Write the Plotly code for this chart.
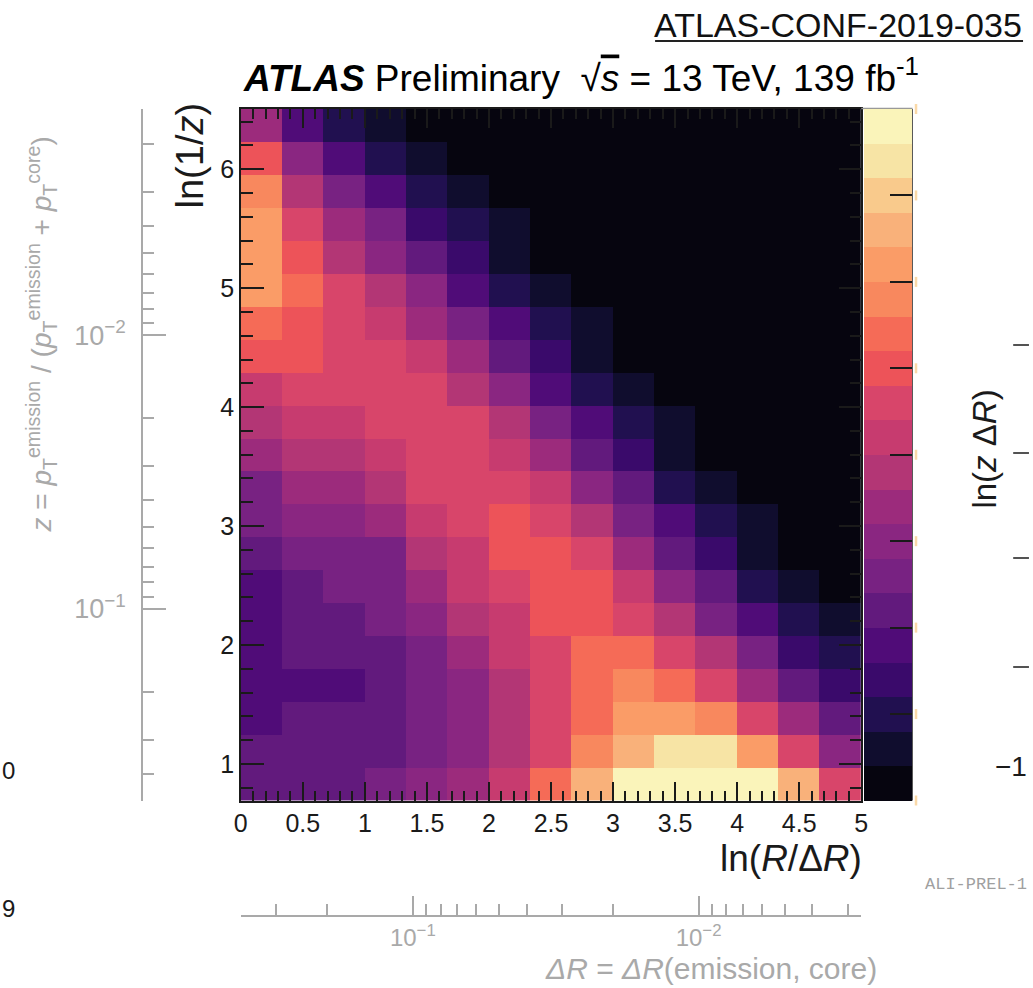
import math
import plotly.graph_objects as go

W, H = 1033, 988

# ---- Lund-plane binning -------------------------------------------------
ln_r_dr_edges = [i / 3 for i in range(16)]            # ln(R/dR), 15 bins
ln_inv_z_step = 0.2768
ln_inv_z_edges = [math.log(2) + i * ln_inv_z_step for i in range(22)]  # ln(1/z), 21 bins

# Emission density as colour band (0 = lowest ... 19 = highest).
# First row is the top row (largest ln(1/z)), columns run in ln(R/dR).
density_band_rows = [
    [8, 4, 2, 1, 0, 0, 0, 0, 0, 0, 0, 0, 0, 0, 0],
    [12, 7, 4, 2, 1, 0, 0, 0, 0, 0, 0, 0, 0, 0, 0],
    [14, 9, 6, 4, 2, 1, 0, 0, 0, 0, 0, 0, 0, 0, 0],
    [15, 11, 8, 6, 3, 2, 1, 0, 0, 0, 0, 0, 0, 0, 0],
    [15, 12, 9, 7, 5, 3, 1, 0, 0, 0, 0, 0, 0, 0, 0],
    [15, 13, 11, 9, 7, 4, 2, 1, 0, 0, 0, 0, 0, 0, 0],
    [13, 12, 11, 10, 8, 6, 4, 2, 1, 0, 0, 0, 0, 0, 0],
    [12, 12, 11, 11, 10, 8, 5, 3, 1, 0, 0, 0, 0, 0, 0],
    [10, 11, 11, 11, 11, 9, 7, 4, 2, 1, 0, 0, 0, 0, 0],
    [9, 10, 10, 11, 11, 11, 9, 6, 4, 2, 1, 0, 0, 0, 0],
    [8, 9, 9, 10, 11, 11, 10, 8, 5, 3, 1, 0, 0, 0, 0],
    [6, 8, 8, 9, 11, 11, 11, 10, 7, 5, 2, 1, 0, 0, 0],
    [6, 7, 7, 8, 10, 11, 12, 11, 9, 6, 4, 2, 1, 0, 0],
    [5, 6, 6, 6, 9, 10, 12, 12, 11, 8, 5, 3, 1, 0, 0],
    [4, 5, 6, 6, 8, 10, 11, 12, 12, 10, 7, 5, 2, 1, 0],
    [4, 5, 5, 6, 7, 9, 10, 12, 12, 11, 9, 6, 4, 2, 1],
    [4, 5, 5, 5, 6, 8, 10, 11, 13, 13, 11, 9, 6, 3, 2],
    [4, 4, 4, 5, 6, 7, 9, 11, 13, 14, 13, 11, 8, 5, 3],
    [4, 5, 5, 5, 6, 7, 9, 11, 13, 15, 15, 14, 11, 8, 5],
    [5, 5, 5, 5, 6, 7, 9, 11, 14, 16, 18, 18, 15, 11, 7],
    [5, 5, 5, 6, 7, 8, 10, 13, 16, 19, 19, 19, 19, 16, 11],
]

# 20-step magma-like palette
band_colors = [
    "#06050F", "#100D2E", "#211050", "#3A0A6B", "#500C78",
    "#621A7D", "#782282", "#8A2681", "#9C2B7C", "#B33675",
    "#C73B6F", "#D8456A", "#ED5359", "#F56B57", "#F8885E",
    "#FA9C67", "#F9B17A", "#F9CA8C", "#F7E4A5", "#FAF4BA",
]
n_bands = len(band_colors)
colorbar_ticks = [-0.5 + 2.5 * k for k in range(9)]

# secondary scales: dR = R exp(-x) with R = 0.4, z = exp(-y)
jet_radius = 0.4
dr_major = [0.1, 0.01]
dr_major_text = ["10<sup>\u22121</sup>", "10<sup>\u22122</sup>"]
dr_minor = [0.4, 0.3, 0.2, 0.09, 0.08, 0.07, 0.06, 0.05, 0.04, 0.03, 0.02,
            0.009, 0.008, 0.007, 0.006, 0.005, 0.004, 0.003]
z_major = [0.1, 0.01]
z_major_text = ["10<sup>\u22121</sup>", "10<sup>\u22122</sup>"]
z_minor = [0.4, 0.3, 0.2, 0.09, 0.08, 0.07, 0.06, 0.05, 0.04, 0.03, 0.02,
           0.009, 0.008, 0.007, 0.006, 0.005, 0.004, 0.003, 0.002]

# ---- helpers ------------------------------------------------------------
def px(x):
    return x / W


def py(y):
    return 1 - y / H


FONT = "Liberation Sans"
GREY = "#A9A9A9"
INK = "#1A1A1A"
NBSP = "\u00a0"

plot_left, plot_right = 237, 866
plot_top, plot_bottom = 109, 800.5

colorscale = []
for i, c in enumerate(band_colors):
    colorscale.append([i / n_bands, c])
    colorscale.append([(i + 1) / n_bands, c])

fig = go.Figure()

fig.add_trace(go.Heatmap(
    x=ln_r_dr_edges,
    y=ln_inv_z_edges,
    z=density_band_rows[::-1],
    colorscale=colorscale,
    zmin=-0.5, zmax=n_bands - 0.5,
    hoverinfo="skip",
    colorbar=dict(
        x=px(869), xanchor="left",
        y=py((plot_top + plot_bottom) / 2), yanchor="middle",
        thickness=48, thicknessmode="pixels",
        len=plot_bottom - plot_top, lenmode="pixels",
        xpad=0, ypad=0, outlinewidth=0,
        tickmode="array", tickvals=colorbar_ticks,
        ticks="inside", ticklen=22, tickwidth=1.5, tickcolor=INK,
        showticklabels=False,
    ),
))

# carrier for the secondary (dR, z) axes
fig.add_trace(go.Scatter(
    x=[0.05], y=[0.05], xaxis="x2", yaxis="y2", mode="markers",
    marker=dict(opacity=0), hoverinfo="skip", showlegend=False,
))

y_lo, y_hi = ln_inv_z_edges[0], ln_inv_z_edges[-1]

fig.update_layout(
    width=W, height=H,
    margin=dict(l=0, r=0, t=0, b=0),
    paper_bgcolor="white", plot_bgcolor="white",
    showlegend=False,
    font=dict(family=FONT, color=INK),
    xaxis=dict(
        domain=[px(plot_left), px(plot_right)], range=[0, 5], anchor="y",
        showgrid=False, zeroline=False,
        showline=True, mirror="ticks", linecolor=INK, linewidth=1.5,
        ticks="inside", ticklen=19, tickwidth=1.5, tickcolor=INK,
        tick0=0, dtick=0.5,
        minor=dict(ticks="inside", ticklen=10, tickwidth=1.5, tickcolor=INK, dtick=0.1),
        tickfont=dict(size=25, color=INK, family=FONT),
    ),
    yaxis=dict(
        domain=[py(plot_bottom), py(plot_top)], range=[y_lo, y_hi], anchor="x",
        showgrid=False, zeroline=False,
        showline=True, mirror="ticks", linecolor=INK, linewidth=1.5,
        ticks="inside", ticklen=23, tickwidth=1.5, tickcolor=INK,
        tick0=0, dtick=1,
        minor=dict(ticks="inside", ticklen=12, tickwidth=1.5, tickcolor=INK, dtick=0.2),
        tickfont=dict(size=25, color=INK, family=FONT),
    ),
    xaxis2=dict(
        type="log", overlaying="x", anchor="free", position=py(916), side="bottom",
        range=[math.log10(jet_radius), math.log10(jet_radius) - 5 / math.log(10)],
        showgrid=False, zeroline=False,
        showline=True, linecolor=GREY, linewidth=2,
        ticks="inside", ticklen=19, tickwidth=1.5, tickcolor=GREY,
        tickmode="array", tickvals=dr_major, ticktext=dr_major_text,
        minor=dict(ticks="inside", ticklen=11, tickwidth=1.5, tickcolor=GREY,
                   tickmode="array", tickvals=dr_minor),
        tickfont=dict(size=24, color=GREY, family=FONT),
        ticklabelstandoff=0,
    ),
    yaxis2=dict(
        type="log", overlaying="y", anchor="free", position=px(137), side="left",
        range=[math.log10(math.exp(-y_lo)), -y_hi / math.log(10)],
        showgrid=False, zeroline=False,
        showline=True, linecolor=GREY, linewidth=2,
        ticks="inside", ticklen=23, tickwidth=1.5, tickcolor=GREY,
        tickmode="array", tickvals=z_major, ticktext=z_major_text,
        minor=dict(ticks="inside", ticklen=11, tickwidth=1.5, tickcolor=GREY,
                   tickmode="array", tickvals=z_minor),
        tickfont=dict(size=27, color=GREY, family=FONT),
        ticklabelstandoff=10,
    ),
)

annotations = [
    dict(x=px(237), y=py(76), xanchor="left", yanchor="middle",
         text="<b><i>ATLAS</i></b> Preliminary" + NBSP * 2 + "\u221a"
              "<span style='text-decoration:overline'><i>s</i></span>"
              " = 13 TeV, 139 fb<sup>-1</sup>",
         font=dict(size=37, color="black")),
    dict(x=px(1031), y=py(25), xanchor="right", yanchor="middle",
         text="ATLAS-CONF-2019-035", font=dict(size=34, color="#111111")),
    dict(x=px(869), y=py(858), xanchor="right", yanchor="middle",
         text="ln(<i>R</i>/\u0394<i>R</i>)", font=dict(size=37, color=INK)),
    dict(x=px(186), y=py(100), xanchor="center", yanchor="top", textangle=-90,
         text="ln(1/<i>z</i>)", font=dict(size=38, color=INK)),
    dict(x=px(35), y=py(335), xanchor="center", yanchor="middle", textangle=-90,
         text="<i>z</i> = <i>p</i><sub>T</sub><sup>emission</sup> / "
              "(<i>p</i><sub>T</sub><sup>emission</sup> + <i>p</i><sub>T</sub><sup>core</sup>)",
         font=dict(size=28, color=GREY)),
    dict(x=px(884), y=py(968), xanchor="right", yanchor="middle",
         text="<i>\u0394R</i> = <i>\u0394R</i>(emission, core)",
         font=dict(size=30, color=GREY)),
    dict(x=px(990), y=py(449), xanchor="center", yanchor="middle", textangle=-90,
         text="ln(<i>z</i> \u0394<i>R</i>)", font=dict(size=33, color=INK)),
    dict(x=px(1036), y=py(766), xanchor="right", yanchor="middle",
         text="\u22121", font=dict(size=28, color=INK)),
    dict(x=px(10), y=py(770), xanchor="right", yanchor="middle",
         text="0", font=dict(size=24, color=INK)),
    dict(x=px(10), y=py(908), xanchor="right", yanchor="middle",
         text="9", font=dict(size=24, color=INK)),
    dict(x=px(929), y=py(884), xanchor="left", yanchor="middle",
         text="ALI-PREL-1", font=dict(size=17, color="#A0A0A0", family="Liberation Mono")),
]
for a in annotations:
    a.update(xref="paper", yref="paper", showarrow=False)
fig.update_layout(annotations=annotations)

shapes = [
    # underline of the note reference
    dict(type="line", x0=px(657), x1=px(1030), y0=py(41), y1=py(41),
         line=dict(color="#222222", width=2)),
    # colour bar right edge and top edge
    dict(type="line", x0=px(917.5), x1=px(917.5), y0=py(plot_top), y1=py(plot_bottom),
         line=dict(color="#333333", width=1.5)),
    dict(type="line", x0=px(plot_right), x1=px(918), y0=py(108.5), y1=py(108.5),
         line=dict(color="#999999", width=1.5)),
]
# small marks beside the colour bar ticks
for k in range(9):
    yk = plot_top + 1 + k * (plot_bottom - plot_top) / 8
    shapes.append(dict(type="line", x0=px(921.5), x1=px(921.5), y0=py(yk - 6), y1=py(yk + 4),
                       line=dict(color="#FAD9A8", width=2.5)))
# tick fragments at the right border
for yt in [345, 453, 558, 667]:
    shapes.append(dict(type="line", x0=px(1020), x1=px(1036), y0=py(yt), y1=py(yt),
                       line=dict(color=INK, width=1.5)))
for s in shapes:
    s.update(xref="paper", yref="paper")
fig.update_layout(shapes=shapes)

fig.write_html("out.html")
